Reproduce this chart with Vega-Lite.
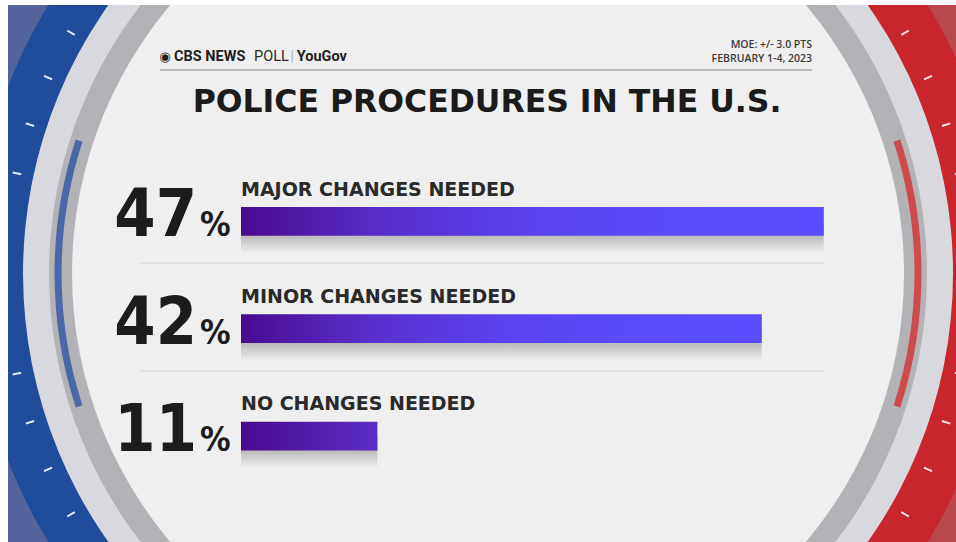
{
  "$schema": "https://vega.github.io/schema/vega-lite/v6.json",
  "width": 956,
  "height": 542,
  "autosize": {"type": "fit", "contains": "padding"},
  "padding": {"left": 8, "top": 5, "right": 0, "bottom": 0},
  "background": "#ffffff",
  "config": {"view": {"stroke": null}},
  "datasets": {
    "poll": [
      {"response": "MAJOR CHANGES NEEDED", "pct": 47},
      {"response": "MINOR CHANGES NEEDED", "pct": 42},
      {"response": "NO CHANGES NEEDED", "pct": 11}
    ]
  },
  "resolve": {"scale": {"y": "independent"}},
  "layer": [
    {
      "data": {"values": [{}]},
      "layer": [
        {"mark": {"type": "rect", "color": "#52649b"},
         "encoding": {"x": {"datum": -18.79, "type": "quantitative", "scale": {"domain": [-18.79, 57.66], "nice": false, "zero": false}, "axis": null}, "x2": {"datum": 19.92}}},
        {"mark": {"type": "rect", "color": "#b9474c"},
         "encoding": {"x": {"datum": 19.92, "type": "quantitative", "scale": {"domain": [-18.79, 57.66], "nice": false, "zero": false}, "axis": null}, "x2": {"datum": 57.66}}},
        {"mark": {"type": "point", "shape": "M0,-1A1,1,0,0,0,0,1Z", "size": 1060900, "filled": true, "opacity": 1, "color": "#1f4d9c", "clip": true},
         "encoding": {"x": {"datum": 19.92, "type": "quantitative", "scale": {"domain": [-18.79, 57.66], "nice": false, "zero": false}, "axis": null}}},
        {"mark": {"type": "point", "shape": "M0,-1A1,1,0,0,1,0,1Z", "size": 1060900, "filled": true, "opacity": 1, "color": "#c9252c", "clip": true},
         "encoding": {"x": {"datum": 19.92, "type": "quantitative", "scale": {"domain": [-18.79, 57.66], "nice": false, "zero": false}, "axis": null}}},
        {"mark": {"type": "point", "shape": "M-0.9781,-0.2079L-0.9605,-0.2042M-0.9511,-0.309L-0.934,-0.3034M-0.9135,-0.4067L-0.8971,-0.3994M-0.866,-0.5L-0.8504,-0.491M-0.9781,0.2079L-0.9605,0.2042M-0.9511,0.309L-0.934,0.3034M-0.9135,0.4067L-0.8971,0.3994M-0.866,0.5L-0.8504,0.491M0.9781,-0.2079L0.9605,-0.2042M0.9511,-0.309L0.934,-0.3034M0.9135,-0.4067L0.8971,-0.3994M0.866,-0.5L0.8504,-0.491M0.9781,0.2079L0.9605,0.2042M0.9511,0.309L0.934,0.3034M0.9135,0.4067L0.8971,0.3994M0.866,0.5L0.8504,0.491", "size": 944784, "filled": false, "opacity": 0.9, "color": "#ffffff", "strokeWidth": 2, "clip": true},
         "encoding": {"x": {"datum": 19.92, "type": "quantitative", "scale": {"domain": [-18.79, 57.66], "nice": false, "zero": false}, "axis": null}}},
        {"mark": {"type": "point", "shape": "circle", "size": 864900, "filled": true, "opacity": 1, "color": "#d8d9de", "clip": true},
         "encoding": {"x": {"datum": 19.92, "type": "quantitative", "scale": {"domain": [-18.79, 57.66], "nice": false, "zero": false}, "axis": null}}},
        {"mark": {"type": "point", "shape": "circle", "size": 770884, "filled": true, "opacity": 1, "color": "#b3b3b7", "clip": true},
         "encoding": {"x": {"datum": 19.92, "type": "quantitative", "scale": {"domain": [-18.79, 57.66], "nice": false, "zero": false}, "axis": null}}},
        {"mark": {"type": "point", "shape": "M-0.951,-0.309A1,1,0,0,0,-0.951,0.309", "size": 739600, "filled": false, "opacity": 1, "color": "#4c66aa", "strokeWidth": 7, "clip": true},
         "encoding": {"x": {"datum": 19.92, "type": "quantitative", "scale": {"domain": [-18.79, 57.66], "nice": false, "zero": false}, "axis": null}}},
        {"mark": {"type": "point", "shape": "M0.951,-0.309A1,1,0,0,1,0.951,0.309", "size": 739600, "filled": false, "opacity": 1, "color": "#cf4a4e", "strokeWidth": 7, "clip": true},
         "encoding": {"x": {"datum": 19.92, "type": "quantitative", "scale": {"domain": [-18.79, 57.66], "nice": false, "zero": false}, "axis": null}}},
        {"mark": {"type": "point", "shape": "circle", "size": 692224, "filled": true, "opacity": 1, "color": "#efefef", "clip": true},
         "encoding": {"x": {"datum": 19.92, "type": "quantitative", "scale": {"domain": [-18.79, 57.66], "nice": false, "zero": false}, "axis": null}}},
        {"mark": {"type": "rule", "color": "#8a8a8a", "strokeWidth": 1},
         "encoding": {"x": {"datum": -6.53, "type": "quantitative", "scale": {"domain": [-18.79, 57.66], "nice": false, "zero": false}, "axis": null}, "x2": {"datum": 46.05},
                      "y": {"datum": 12.1, "type": "quantitative", "scale": {"domain": [0, 100], "reverse": true, "nice": false, "zero": false}, "axis": null}}},
        {"mark": {"type": "text", "text": "◉", "font": "DejaVu Sans", "fontSize": 13, "align": "left", "baseline": "alphabetic", "color": "#1e1e1e"},
         "encoding": {"x": {"datum": -6.6, "type": "quantitative", "scale": {"domain": [-18.79, 57.66], "nice": false, "zero": false}, "axis": null},
                      "y": {"datum": 10.37, "type": "quantitative", "scale": {"domain": [0, 100], "reverse": true, "nice": false, "zero": false}, "axis": null}}},
        {"mark": {"type": "text", "text": "CBS NEWS", "font": "Roboto", "fontWeight": "bold", "fontSize": 14.5, "align": "left", "baseline": "alphabetic", "color": "#1e1e1e"},
         "encoding": {"x": {"datum": -5.4, "type": "quantitative", "scale": {"domain": [-18.79, 57.66], "nice": false, "zero": false}, "axis": null},
                      "y": {"datum": 10.37, "type": "quantitative", "scale": {"domain": [0, 100], "reverse": true, "nice": false, "zero": false}, "axis": null}}},
        {"mark": {"type": "text", "text": "POLL", "font": "Roboto", "fontWeight": "normal", "fontSize": 14.5, "align": "left", "baseline": "alphabetic", "color": "#2a2a2a"},
         "encoding": {"x": {"datum": 1.05, "type": "quantitative", "scale": {"domain": [-18.79, 57.66], "nice": false, "zero": false}, "axis": null},
                      "y": {"datum": 10.37, "type": "quantitative", "scale": {"domain": [0, 100], "reverse": true, "nice": false, "zero": false}, "axis": null}}},
        {"mark": {"type": "text", "text": "|", "font": "Roboto", "fontWeight": "normal", "fontSize": 14, "align": "left", "baseline": "alphabetic", "color": "#b0b0b0"},
         "encoding": {"x": {"datum": 4.0, "type": "quantitative", "scale": {"domain": [-18.79, 57.66], "nice": false, "zero": false}, "axis": null},
                      "y": {"datum": 10.37, "type": "quantitative", "scale": {"domain": [0, 100], "reverse": true, "nice": false, "zero": false}, "axis": null}}},
        {"mark": {"type": "text", "text": "YouGov", "font": "Roboto", "fontWeight": "bold", "fontSize": 14.5, "align": "left", "baseline": "alphabetic", "color": "#1e1e1e"},
         "encoding": {"x": {"datum": 4.5, "type": "quantitative", "scale": {"domain": [-18.79, 57.66], "nice": false, "zero": false}, "axis": null},
                      "y": {"datum": 10.37, "type": "quantitative", "scale": {"domain": [0, 100], "reverse": true, "nice": false, "zero": false}, "axis": null}}},
        {"mark": {"type": "text", "text": "MOE: +/- 3.0 PTS", "font": "Open Sans", "fontWeight": 600, "fontSize": 10.5, "align": "right", "baseline": "alphabetic", "color": "#3a3a3a"},
         "encoding": {"x": {"datum": 46.05, "type": "quantitative", "scale": {"domain": [-18.79, 57.66], "nice": false, "zero": false}, "axis": null},
                      "y": {"datum": 8.0, "type": "quantitative", "scale": {"domain": [0, 100], "reverse": true, "nice": false, "zero": false}, "axis": null}}},
        {"mark": {"type": "text", "text": "FEBRUARY 1-4, 2023", "font": "Open Sans", "fontWeight": 600, "fontSize": 10.5, "align": "right", "baseline": "alphabetic", "color": "#3a3a3a"},
         "encoding": {"x": {"datum": 46.05, "type": "quantitative", "scale": {"domain": [-18.79, 57.66], "nice": false, "zero": false}, "axis": null},
                      "y": {"datum": 10.6, "type": "quantitative", "scale": {"domain": [0, 100], "reverse": true, "nice": false, "zero": false}, "axis": null}}},
        {"mark": {"type": "text", "text": "POLICE PROCEDURES IN THE U.S.", "font": "DejaVu Sans", "fontWeight": "bold", "fontSize": 31.5, "align": "center", "baseline": "alphabetic", "color": "#1b1b1b"},
         "encoding": {"x": {"datum": 19.84, "type": "quantitative", "scale": {"domain": [-18.79, 57.66], "nice": false, "zero": false}, "axis": null},
                      "y": {"datum": 19.93, "type": "quantitative", "scale": {"domain": [0, 100], "reverse": true, "nice": false, "zero": false}, "axis": null}}}
      ]
    },
    {
      "data": {"name": "poll"},
      "layer": [
        {"transform": [{"filter": "datum.response !== 'NO CHANGES NEEDED'"}],
         "mark": {"type": "rule", "color": "#dcdcdc", "strokeWidth": 1.5},
         "encoding": {
           "x": {"datum": -8.13, "type": "quantitative", "scale": {"domain": [-18.79, 57.66], "nice": false, "zero": false}, "axis": null},
           "x2": {"datum": 47.02},
           "y": {"field": "response", "type": "nominal", "sort": null, "axis": null, "bandPosition": 0.891, "scale": {"type": "band", "paddingInner": 0, "paddingOuter": 1.0632, "align": 0.757}}}},
        {"mark": {"type": "bar", "height": {"band": 0.3}, "yOffset": 16,
                  "color": {"gradient": "linear", "x1": 0, "y1": 0, "x2": 0, "y2": 1, "stops": [{"offset": 0, "color": "rgba(0,0,0,0.3)"}, {"offset": 0.45, "color": "rgba(0,0,0,0.22)"}, {"offset": 1, "color": "rgba(0,0,0,0)"}]}},
         "encoding": {
           "x": {"field": "pct", "type": "quantitative", "scale": {"domain": [-18.79, 57.66], "nice": false, "zero": false}, "axis": null},
           "x2": {"datum": 0},
           "y": {"field": "response", "type": "nominal", "sort": null, "axis": null, "scale": {"type": "band", "paddingInner": 0, "paddingOuter": 1.0632, "align": 0.757}}}},
        {"mark": {"type": "bar", "height": {"band": 0.267}},
         "encoding": {
           "x": {"field": "pct", "type": "quantitative", "scale": {"domain": [-18.79, 57.66], "nice": false, "zero": false}, "axis": null},
           "x2": {"datum": 0},
           "y": {"field": "response", "type": "nominal", "sort": null, "axis": null, "scale": {"type": "band", "paddingInner": 0, "paddingOuter": 1.0632, "align": 0.757}},
           "color": {
             "condition": {"test": "datum.pct < 20", "value": {"gradient": "linear", "stops": [{"offset": 0, "color": "#4a0a8e"}, {"offset": 1, "color": "#5a2ec6"}]}},
             "value": {"gradient": "linear", "stops": [{"offset": 0, "color": "#4a0a8e"}, {"offset": 0.25, "color": "#5830cc"}, {"offset": 0.5, "color": "#5a42ef"}, {"offset": 0.75, "color": "#5b4bfc"}, {"offset": 1, "color": "#5b4dff"}]}
           }}},
        {"mark": {"type": "text", "font": "DejaVu Sans", "fontWeight": "bold", "fontSize": 19, "align": "left", "baseline": "alphabetic", "color": "#2a2a2a"},
         "encoding": {
           "x": {"datum": 0, "type": "quantitative", "scale": {"domain": [-18.79, 57.66], "nice": false, "zero": false}, "axis": null},
           "y": {"field": "response", "type": "nominal", "sort": null, "axis": null, "bandPosition": 0.2613, "scale": {"type": "band", "paddingInner": 0, "paddingOuter": 1.0632, "align": 0.757}},
           "text": {"field": "response"}}},
        {"mark": {"type": "text", "font": "DejaVu Sans Condensed, DejaVu Sans", "fontWeight": "bold", "fontSize": 66, "align": "right", "baseline": "alphabetic", "color": "#1c1c1c"},
         "encoding": {
           "x": {"datum": -3.55, "type": "quantitative", "scale": {"domain": [-18.79, 57.66], "nice": false, "zero": false}, "axis": null},
           "y": {"field": "response", "type": "nominal", "sort": null, "axis": null, "bandPosition": 0.638, "scale": {"type": "band", "paddingInner": 0, "paddingOuter": 1.0632, "align": 0.757}},
           "text": {"field": "pct", "type": "quantitative", "format": "d"}}},
        {"mark": {"type": "text", "text": "%", "font": "DejaVu Sans Condensed, DejaVu Sans", "fontWeight": "bold", "fontSize": 34, "align": "left", "baseline": "alphabetic", "color": "#1c1c1c"},
         "encoding": {
           "x": {"datum": -3.31, "type": "quantitative", "scale": {"domain": [-18.79, 57.66], "nice": false, "zero": false}, "axis": null},
           "y": {"field": "response", "type": "nominal", "sort": null, "axis": null, "bandPosition": 0.638, "scale": {"type": "band", "paddingInner": 0, "paddingOuter": 1.0632, "align": 0.757}}}}
      ]
    }
  ]
}
